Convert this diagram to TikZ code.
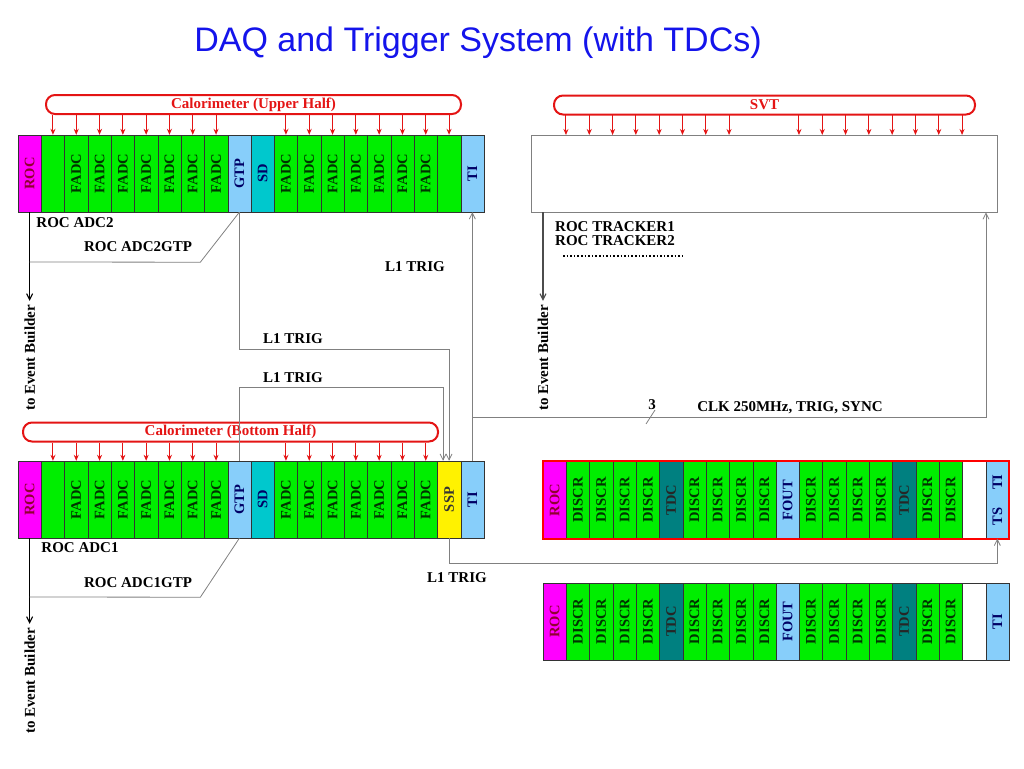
\documentclass[tikz,border=0pt]{standalone}
\usepackage{fontspec}
\setmainfont{Liberation Serif}
\newfontfamily\titlefont{Liberation Sans}
\usetikzlibrary{arrows.meta}
\definecolor{fadcgreen}{RGB}{0,238,0}
\definecolor{tiblue}{RGB}{135,206,250}
\definecolor{sdcyan}{RGB}{0,200,205}
\definecolor{tdcteal}{RGB}{0,128,128}
\definecolor{rocmag}{RGB}{255,0,255}
\definecolor{calred}{RGB}{228,20,20}
\definecolor{titleblue}{RGB}{20,20,235}
\tikzset{
slot/.style={draw=black!80, minimum width=23.3pt, minimum height=77pt, inner sep=0pt, font=\bfseries\fontsize{14.5}{14.5}\selectfont},
roc/.style={fill=rocmag, text=purple!75!black},
fadc/.style={fill=fadcgreen, text=green!20!black},
gtp/.style={fill=tiblue, text=blue!40!black},
sd/.style={fill=sdcyan, text=blue!40!black},
ti/.style={fill=tiblue, text=blue!40!black},
ssp/.style={fill=yellow, text=black!80},
tdc/.style={fill=tdcteal, text=black!85},
blank/.style={fill=white},
lbl/.style={inner sep=0pt, font=\bfseries\fontsize{15}{15}\selectfont},
band/.style={draw=calred, line width=2pt, rounded corners=9pt, text=calred, minimum height=19pt, inner sep=0pt, font=\bfseries\fontsize{15}{15}\selectfont},
feed/.style={calred, line width=1pt, -{Stealth[length=6pt,width=5pt]}},
wire/.style={draw=gray, line width=0.8pt, >={Straight Barb[length=6pt,width=6pt]}},
ev/.style={draw=black, line width=1.1pt, ->, >={Straight Barb[length=6pt,width=6pt]}}
}
\begin{document}
\begin{tikzpicture}[x=1pt,y=-1pt]
\useasboundingbox (0,0) rectangle (1024,768);
\node[anchor=base, text=titleblue, font=\titlefont\fontsize{34}{34}\selectfont] (title) at (478,52) {DAQ and Trigger System (with TDCs)};

\foreach \t/\s [count=\i from 0] in {ROC/roc,/fadc,FADC/fadc,FADC/fadc,FADC/fadc,FADC/fadc,FADC/fadc,FADC/fadc,FADC/fadc,GTP/gtp,SD/sd,FADC/fadc,FADC/fadc,FADC/fadc,FADC/fadc,FADC/fadc,FADC/fadc,FADC/fadc,/fadc,TI/ti}
{
\node[slot,\s] (tl\i) at ({18+23.3*(\i+0.5)},173.5) {\rotatebox{90}{\t}};
}
\foreach \t/\s [count=\i from 0] in {ROC/roc,/fadc,FADC/fadc,FADC/fadc,FADC/fadc,FADC/fadc,FADC/fadc,FADC/fadc,FADC/fadc,GTP/gtp,SD/sd,FADC/fadc,FADC/fadc,FADC/fadc,FADC/fadc,FADC/fadc,FADC/fadc,FADC/fadc,SSP/ssp,TI/ti}
{
\node[slot,\s] (bl\i) at ({18+23.3*(\i+0.5)},499.5) {\rotatebox{90}{\t}};
}
\foreach \t/\s [count=\i from 0] in {ROC/roc,DISCR/fadc,DISCR/fadc,DISCR/fadc,DISCR/fadc,TDC/tdc,DISCR/fadc,DISCR/fadc,DISCR/fadc,DISCR/fadc,FOUT/ti,DISCR/fadc,DISCR/fadc,DISCR/fadc,DISCR/fadc,TDC/tdc,DISCR/fadc,DISCR/fadc,/blank,TS\hspace{18pt}TI/ti}
{
\node[slot,\s] (ra\i) at ({543+23.3*(\i+0.5)},500) {\rotatebox{90}{\t}};
}
\foreach \t/\s [count=\i from 0] in {ROC/roc,DISCR/fadc,DISCR/fadc,DISCR/fadc,DISCR/fadc,TDC/tdc,DISCR/fadc,DISCR/fadc,DISCR/fadc,DISCR/fadc,FOUT/ti,DISCR/fadc,DISCR/fadc,DISCR/fadc,DISCR/fadc,TDC/tdc,DISCR/fadc,DISCR/fadc,/blank,TI/ti}
{
\node[slot,\s] (rb\i) at ({543+23.3*(\i+0.5)},621.5) {\rotatebox{90}{\t}};
}
\node[draw=red, line width=2.2pt, minimum width=466pt, minimum height=78pt, inner sep=0pt] (tdcA) at (776,500) {};
\node[draw=gray, line width=0.8pt, minimum width=466pt, minimum height=77pt, inner sep=0pt] (svt) at (764,173.5) {};

\node[band, minimum width=415pt] (calU) at (253.5,104.5) {Calorimeter (Upper Half)};
\node[band, minimum width=415pt] (calB) at (230.5,432) {Calorimeter (Bottom Half)};
\node[band, minimum width=421pt] (svtU) at (764.5,105) {SVT};
\foreach \i in {1,2,3,4,5,6,7,8,11,12,13,14,15,16,17,18}
{
\draw[feed] (tl\i.north |- calU.south) -- (tl\i.north);
\draw[feed] ({531+23.3*(\i+0.5)},114) -- ++(0,21);
}
\foreach \i in {1,2,3,4,5,6,7,8,11,12,13,14,15,16,17}
{
\draw[feed] (bl\i.north |- calB.south) -- (bl\i.north);
}

\node[lbl, inner sep=4pt, rotate=90] (eb1) at (tl0.south |- 0,358) {to Event Builder};
\node[lbl, inner sep=4pt, rotate=90] (eb2) at (bl0.south |- 0,681) {to Event Builder};
\node[lbl, inner sep=4pt, rotate=90] (eb3) at (543,358) {to Event Builder};
\draw[ev] (tl0.south) -- (eb1.east);
\draw[ev] (bl0.south) -- (eb2.east);
\draw[ev, draw=black!70] (eb3.east |- svt.south) -- (eb3.east);
\draw[wire] (tl9.south) -- ++(-39,50) -- (tl0.south |- 0,262);
\draw[wire] (bl9.south) -- ++(-39,59) -- (bl0.south |- 0,597);
\node[lbl] (adc2) at (75,223) {ROC ADC2};
\node[lbl] (adc2gtp) at (138,247) {ROC ADC2GTP};
\node[lbl] (adc1) at (80,548) {ROC ADC1};
\node[lbl] (adc1gtp) at (138,583) {ROC ADC1GTP};
\node[lbl, anchor=west] (trk1) at (555,227) {ROC TRACKER1};
\node[lbl, anchor=west] (trk2) at (555,241) {ROC TRACKER2};
\draw[dotted, line width=1.6pt] (563,256) -- (683,256);

\draw[wire, ->] (tl9.south) -- (tl9.south |- 0,349) -| (bl18.north);
\draw[wire, ->] (bl9.north) -- ++(0,-73) -| ([xshift=-6pt]bl18.north);
\draw[wire, ->] (bl19.north) -- (tl19.south);
\draw[wire, ->] (tl19.south |- 0,417) -| (svt.south -| 986,0);
\draw[wire, ->] (bl18.south) -- ++(0,25) -| (ra19.south);
\draw[wire] (646,424) -- (655,410);
\node[lbl] (three) at (652,405) {3};
\node[lbl] (l1a) at (415,267) {L1 TRIG};
\node[lbl] (l1b) at (293,339) {L1 TRIG};
\node[lbl] (l1c) at (293,378) {L1 TRIG};
\node[lbl] (l1d) at (457,578) {L1 TRIG};
\node[lbl] (clk) at (790,408) {CLK 250MHz, TRIG, SYNC};
\end{tikzpicture}
\end{document}
